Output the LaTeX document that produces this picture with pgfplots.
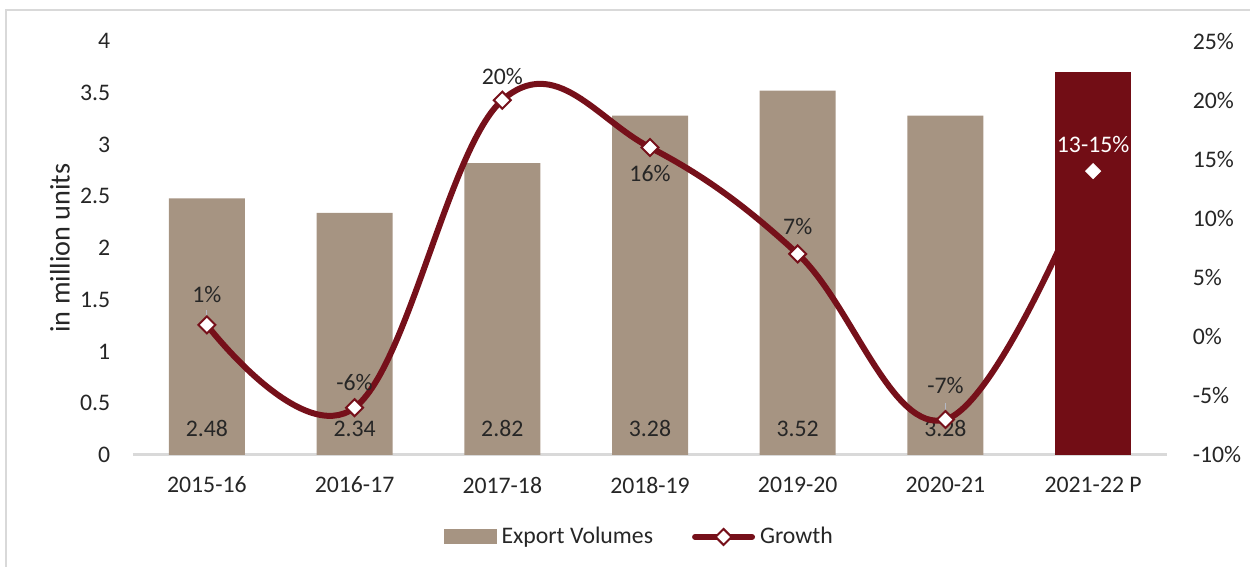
\documentclass[border=0pt]{standalone}
\usepackage{pgfplots}
\pgfplotsset{compat=1.18}
\usepackage{fontspec}
\setmainfont{Carlito}
\definecolor{tanc}{HTML}{A69482}
\definecolor{redc}{HTML}{720D15}
\definecolor{linec}{HTML}{76101A}
\definecolor{txt}{HTML}{262626}
\definecolor{gridc}{HTML}{D9D9D9}
\definecolor{leadc}{HTML}{B4B8C4}
\newcommand{\lblfont}{\fontsize{9.5}{11}\selectfont}

\pgfplotsset{
  base/.style={
    width=413.6pt, height=165.6pt, scale only axis,
    at={(0pt,0pt)}, anchor=south west,
    xmin=-0.5, xmax=6.5, clip=false,
    major tick length=0pt,
    ticklabel style={font=\lblfont, text=txt},
  },
}

\begin{document}
\begin{tikzpicture}
\useasboundingbox (-53.2pt,-44.8pt) rectangle (446.8pt,182pt);
\draw[gridc, line width=0.8pt] (-50.8pt,-60pt) -- (-50.8pt,178pt) -- (470pt,178pt);

% export volumes (left axis)
\begin{axis}[base,
  ymin=0, ymax=4,
  axis x line*=bottom, axis y line*=left,
  x axis line style={draw=gridc, line width=1.2pt, -},
  y axis line style={draw=none},
  xtick={0,...,6},
  xticklabels={2015-16,2016-17,2017-18,2018-19,2019-20,2020-21,2021-22 P},
  xticklabel style={yshift=-5.2pt},
  ytick={0,0.5,1,1.5,2,2.5,3,3.5,4},
  yticklabels={0,0.5,1,1.5,2,2.5,3,3.5,4},
  yticklabel style={xshift=-5.6pt},
  ylabel={in million units},
  ylabel style={at={(axis description cs:-0.0706,0.5)}, anchor=center,
    font=\fontsize{11.3}{13}\selectfont, text=txt},
]
\addplot[ybar, bar width=30.4pt, fill=tanc, draw=none,
  point meta=explicit symbolic, nodes near coords,
  visualization depends on=y \as \rawy,
  every node near coord/.append style={shift={(axis direction cs:0,-\rawy)},
    yshift=10.6pt, anchor=center, font=\lblfont, text=txt},
] coordinates {(0,2.48) [2.48] (1,2.34) [2.34] (2,2.82) [2.82]
               (3,3.28) [3.28] (4,3.52) [3.52] (5,3.28) [3.28]};
\end{axis}

% growth (right axis)
\begin{axis}[base,
  ymin=-10, ymax=25,
  axis x line=none, axis y line*=right,
  y axis line style={draw=none},
  xtick=\empty,
  ytick={-10,-5,0,5,10,15,20,25},
  yticklabels={-10\%,-5\%,0\%,5\%,10\%,15\%,20\%,25\%},
  yticklabel style={xshift=6.8pt},
]
\addplot[linec, line width=2.4pt, smooth, tension=0.65, line cap=round,
  mark=square*, mark indices={1,...,6}, mark size=2.4pt,
  mark options={rotate=45, fill=white, draw=linec, line width=0.8pt}]
  coordinates {(0,1) (1,-6) (2,20) (3,16) (4,7) (5,-7) (6,14)};
% label leader lines
\draw[leadc, line width=0.5pt] ([yshift=1.2pt]axis cs:0,1) -- ([yshift=5.8pt]axis cs:0,1);
\draw[leadc, line width=0.5pt] ([yshift=0.8pt]axis cs:5,-7) -- ([yshift=6.8pt]axis cs:5,-7);
\addplot[draw=none, mark=none, point meta=explicit symbolic,
  nodes near coords={\pgfplotspointmeta\%},
  visualization depends on={\thisrow{dy} \as \dy},
  every node near coord/.style={anchor=center, yshift=\dy pt, font=\lblfont, text=txt}]
  table[x=x, y=y, meta=lab] {
  x y dy lab
  0 1 12 1
  1 -6 10 -6
  2 20 9.6 20
  3 16 -10.4 16
  4 7 11 7
  5 -7 13.6 -7
  };
\end{axis}

% projected year bar
\begin{axis}[base, ymin=0, ymax=4, hide axis]
\addplot[ybar, bar width=30.4pt, fill=redc, draw=none] coordinates {(6,3.7)};
\end{axis}

% projected growth marker and legend
\begin{axis}[base, ymin=-10, ymax=25, hide axis,
  legend style={at={(axis description cs:0.491,-0.198)}, anchor=center,
    draw=none, fill=none, legend columns=2, font=\lblfont, text=txt,
    /tikz/every even column/.append style={column sep=13.6pt}},
  legend cell align=left,
]
\addlegendimage{legend image code/.code={\fill[tanc] (0pt,-2.8pt) rectangle (20.8pt,2.8pt);}}
\addlegendentry{Export Volumes}
\addlegendimage{legend image code/.code={%
  \draw[linec, line width=2.4pt, line cap=round] (0pt,0pt) -- (22.8pt,0pt);
  \draw[linec, fill=white, line width=0.8pt] (11.4pt,3.2pt) -- (14.6pt,0pt) -- (11.4pt,-3.2pt) -- (8.2pt,0pt) -- cycle;}}
\addlegendentry{Growth}
\addplot[forget plot, only marks, mark=square*, mark size=2.1pt,
  mark options={rotate=45, fill=white, draw=white},
  nodes near coords={13-15\%},
  every node near coord/.style={anchor=center, yshift=10.8pt, text=white, font=\lblfont}]
  coordinates {(6,14)};
\end{axis}
\end{tikzpicture}
\end{document}
